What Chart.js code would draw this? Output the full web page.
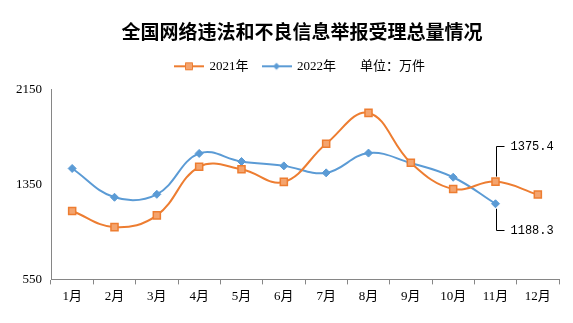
<!DOCTYPE html>
<html>
<head>
<meta charset="utf-8">
<script src="https://cdn.jsdelivr.net/npm/chart.js@4/dist/chart.umd.min.js"></script>
<style>
  html, body { margin: 0; padding: 0; background: #fff; }
  #wrap { width: 573px; height: 323px; }
</style>
</head>
<body>
<div id="wrap"><canvas id="myChart" width="573" height="323"></canvas></div>
<script>
// chart data
var months = ["1月", "2月", "3月", "4月", "5月", "6月", "7月", "8月", "9月", "10月", "11月", "12月"];
var values2021 = [1127, 991, 1090, 1500, 1480, 1373, 1695, 1955, 1534, 1313, 1375.4, 1266];
var values2022 = [1486, 1243, 1268, 1613, 1545, 1508, 1449, 1616, 1532, 1412, 1188.3, null];
var yTicks = [550, 1350, 2150];
var seriesNames = ["2021年", "2022年"];
var unitText = "单位：万件";
var titleText = "全国网络违法和不良信息举报受理总量情况";

var orange = "#ED7D31";
var orangeFill = "#F4A46E";
var blue = "#5B9BD5";
var serif = '"Times New Roman", "Liberation Serif", "Noto Sans CJK SC", serif';

// small legend icons: line with marker in the middle
function legendIcon(color, fill, shape) {
    var c = document.createElement("canvas");
    c.width = 30;
    c.height = 12;
    var g = c.getContext("2d");
    g.strokeStyle = color;
    g.lineWidth = 2;
    g.beginPath();
    g.moveTo(0, 6);
    g.lineTo(30, 6);
    g.stroke();
    g.fillStyle = fill;
    g.beginPath();
    if (shape === "rect") {
        g.rect(11.5, 2.5, 7, 7);
        g.fill();
        g.lineWidth = 1;
        g.stroke();
    } else {
        g.moveTo(15, 2.5);
        g.lineTo(18.5, 6);
        g.lineTo(15, 9.5);
        g.lineTo(11.5, 6);
        g.closePath();
        g.fill();
    }
    return c;
}
var icons = [legendIcon(orange, orangeFill, "rect"), legendIcon(blue, blue, "diamond")];

// move legend so it sits left of the unit text, then draw unit text
const legendPlace = {
    id: "legendPlace",
    afterLayout(chart) {
        var lg = chart.legend;
        var x0 = (lg.left + lg.options.labels.padding + lg.right - lg.lineWidths[0]) / 2;
        var d = x0 - 175;
        lg.left -= d;
        lg.right -= d;
        lg.top -= 7;
    },
    afterDraw(chart) {
        var ctx = chart.ctx;
        var lg = chart.legend;
        ctx.save();
        ctx.font = '13px ' + serif;
        ctx.fillStyle = "#000";
        ctx.textBaseline = "middle";
        ctx.textAlign = "left";
        ctx.fillText(unitText, 360, lg.top + lg.options.labels.padding + 6.5);
        ctx.restore();
    }
};

// callout labels for the last 2022 value and the matching 2021 value
const callouts = {
    id: "callouts",
    afterDatasetsDraw(chart) {
        var ctx = chart.ctx;
        var idx = 10;
        var items = [
            { ds: 0, dy: -36, text: values2021[idx].toFixed(1) },
            { ds: 1, dy: 26, text: values2022[idx].toFixed(1) }
        ];
        ctx.save();
        ctx.strokeStyle = "#000";
        ctx.lineWidth = 1;
        ctx.fillStyle = "#000";
        ctx.font = '12px "Liberation Mono", "DejaVu Sans Mono", monospace';
        ctx.textBaseline = "middle";
        items.forEach(function (it) {
            var pt = chart.getDatasetMeta(it.ds).data[idx];
            var x = Math.round(pt.x) + 0.5;
            var y0 = pt.y + (it.dy < 0 ? -5 : 5);
            var y1 = Math.round(pt.y + it.dy) + 0.5;
            ctx.beginPath();
            ctx.moveTo(x, y0);
            ctx.lineTo(x, y1);
            ctx.lineTo(x + 8, y1);
            ctx.stroke();
            ctx.fillText(it.text, x + 14, y1);
        });
        ctx.restore();
    }
};

const ctx = document.getElementById("myChart").getContext("2d");
const myChart = new Chart(ctx, {
    type: "line",
    data: {
        labels: months,
        datasets: [
            {
                label: seriesNames[0],
                data: values2021,
                borderColor: orange,
                backgroundColor: orangeFill,
                borderWidth: 2,
                tension: 0.4,
                pointStyle: "rect",
                pointRadius: 5,
                pointBorderWidth: 1.5,
                pointBorderColor: orange,
                pointBackgroundColor: orangeFill
            },
            {
                label: seriesNames[1],
                data: values2022,
                borderColor: blue,
                backgroundColor: blue,
                borderWidth: 2,
                tension: 0.4,
                pointStyle: "rectRot",
                pointRadius: 4,
                pointBorderWidth: 1,
                pointBorderColor: blue,
                pointBackgroundColor: blue
            }
        ]
    },
    options: {
        responsive: false,
        animation: false,
        layout: {
            padding: { left: 7, right: 14, top: 0, bottom: 15 }
        },
        plugins: {
            tooltip: { enabled: false },
            title: {
                display: true,
                text: "\u3000\u3000" + titleText,
                color: "#000",
                font: { size: 19, weight: "bold", family: '"Noto Sans CJK SC", sans-serif' },
                padding: { top: 20, bottom: 10 }
            },
            legend: {
                display: true,
                position: "top",
                labels: {
                    color: "#000",
                    font: { size: 13, family: serif },
                    usePointStyle: true,
                    pointStyleWidth: 28,
                    padding: 14,
                    generateLabels: function (chart) {
                        return chart.data.datasets.map(function (ds, i) {
                            return {
                                text: ds.label,
                                pointStyle: icons[i],
                                fillStyle: ds.borderColor,
                                strokeStyle: ds.borderColor,
                                lineWidth: 0,
                                datasetIndex: i,
                                hidden: false
                            };
                        });
                    }
                }
            }
        },
        scales: {
            x: {
                offset: true,
                grid: {
                    offset: true,
                    drawOnChartArea: false,
                    drawTicks: true,
                    tickLength: 5,
                    color: "#868686"
                },
                border: { display: true, color: "#868686", width: 1 },
                ticks: {
                    color: "#000",
                    padding: 4,
                    maxRotation: 0,
                    font: { size: 13, family: serif }
                }
            },
            y: {
                min: yTicks[0],
                max: yTicks[yTicks.length - 1],
                afterBuildTicks: function (axis) {
                    axis.ticks = yTicks.map(function (v) { return { value: v }; });
                },
                grid: { drawOnChartArea: false, drawTicks: false },
                border: { display: true, color: "#868686", width: 1 },
                ticks: {
                    color: "#000",
                    padding: 9,
                    font: { size: 13, family: serif },
                    callback: function (v) { return String(v); }
                }
            }
        }
    },
    plugins: [legendPlace, callouts]
});
</script>
</body>
</html>
